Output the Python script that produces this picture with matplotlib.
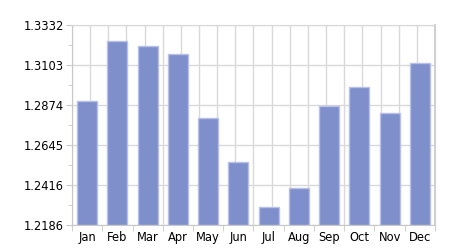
import numpy as np
import matplotlib
matplotlib.use("Agg")
import matplotlib.pyplot as plt

months = ["Jan", "Feb", "Mar", "Apr", "May", "Jun", "Jul", "Aug", "Sep", "Oct", "Nov", "Dec"]
values = [1.2897, 1.3238, 1.3210, 1.3168, 1.2799, 1.2545, 1.2291, 1.2400, 1.2870, 1.2979, 1.2828, 1.3114]
yticks = [1.2186, 1.2416, 1.2645, 1.2874, 1.3103, 1.3332]
ytick_labels = ["1.2186", "1.2416", "1.2645", "1.2874", "1.3103", "1.3332"]

plt.rcParams['font.family'] = ['DejaVu Sans']
fig = plt.figure(figsize=(4.6, 2.5), dpi=100)
ax = fig.add_axes([72/460, 25/250, 363/460, 200/250])

grid_c = "#d9d9d9"
x = np.arange(len(months))
ax.set_xlim(-0.5, len(months) - 0.5)
ax.set_ylim(yticks[0], yticks[-1])

# vertical grid (20 equal divisions)
xs = np.linspace(-0.5, len(months) - 0.5, 21)
ax.vlines(xs, 0, 1, transform=ax.get_xaxis_transform(), colors=grid_c, linewidth=1, zorder=0)
for yv in yticks:
    ax.axhline(yv, color=grid_c, linewidth=1, zorder=0)

ax.bar(x, [v - yticks[0] for v in values], bottom=yticks[0], width=0.66,
       color="#7f8fcc", edgecolor="#b8c0e6", linewidth=1, zorder=2)

ax.set_xticks(x)
ax.set_xticklabels(months, fontsize=8.3)
ax.set_xticks(np.arange(-0.5, len(months), 1), minor=True)
ax.tick_params(axis='x', which='major', length=0, pad=4)
ax.tick_params(axis='x', which='minor', length=4, color="#c8c8c8", direction='out')

ax.set_yticks(yticks)
ax.set_yticklabels(ytick_labels, fontsize=8.3)
mids = [(yticks[i] + yticks[i + 1]) / 2 for i in range(len(yticks) - 1)]
ax.set_yticks(mids, minor=True)
ax.tick_params(axis='y', which='major', length=4, color="#c8c8c8", direction='out', pad=2)
ax.tick_params(axis='y', which='minor', length=3, color="#c8c8c8", direction='out')

for s in ['left', 'bottom']:
    ax.spines[s].set_color("#c8c8c8")
ax.spines['right'].set_color("#d0d0d0")
ax.spines['right'].set_linewidth(1.5)
ax.spines['top'].set_color(grid_c)

fig.savefig("out.png", dpi=100)
